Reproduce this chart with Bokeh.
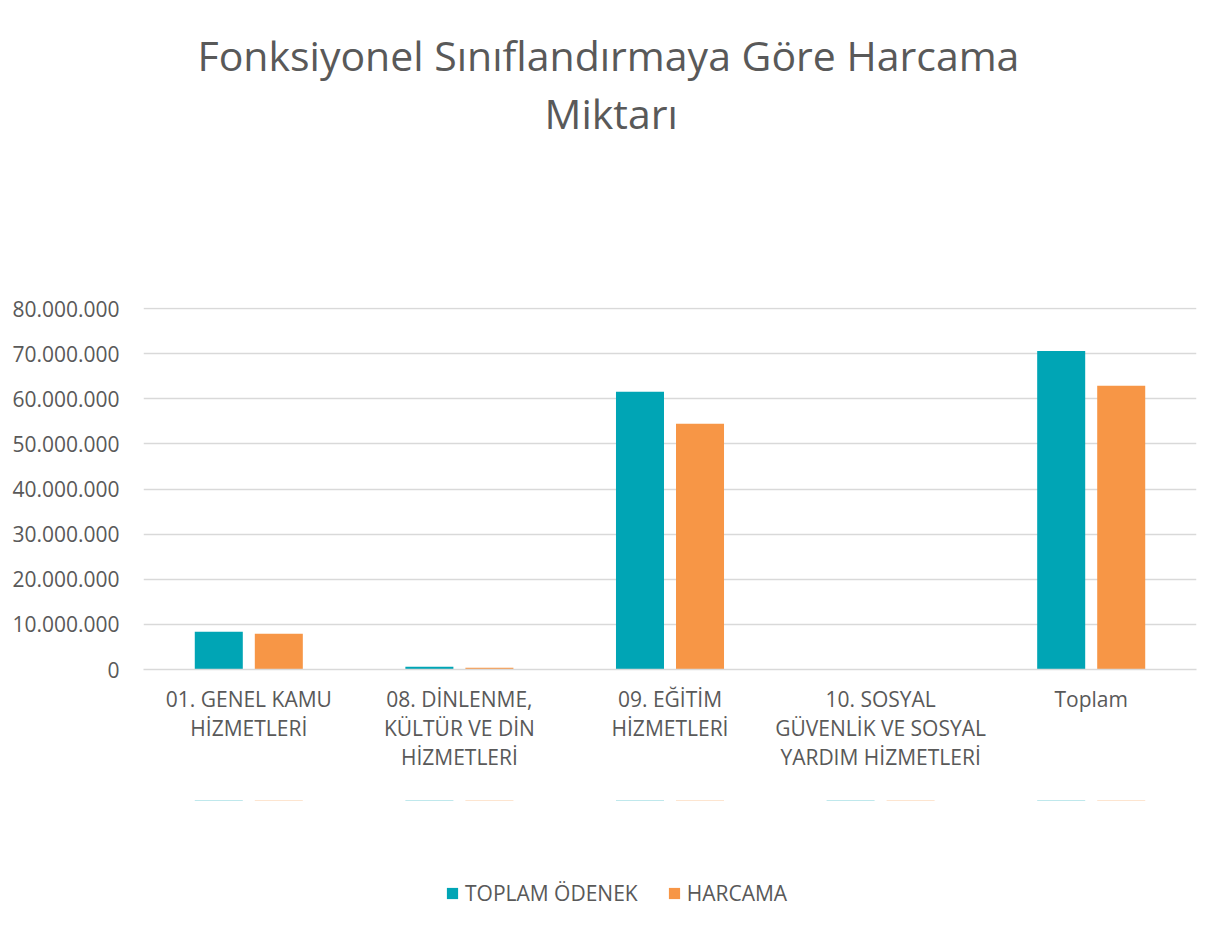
from bokeh.plotting import figure
from bokeh.layouts import column
from bokeh.models import (ColumnDataSource, FactorRange, Range1d, FixedTicker, Legend, LegendItem,
                          Title)
from bokeh.transform import dodge
from bokeh.embed import file_html
from bokeh.resources import INLINE

categories = ["01. GENEL KAMU\nHİZMETLERİ", "08. DİNLENME,\nKÜLTÜR VE DİN\nHİZMETLERİ",
              "09. EĞİTİM\nHİZMETLERİ", "10. SOSYAL\nGÜVENLİK VE SOSYAL\nYARDIM HİZMETLERİ", "Toplam"]
toplam_odenek = [8350000, 600000, 61600000, 0, 70600000]
harcama = [7900000, 380000, 54500000, 0, 62900000]
series_names = ["TOPLAM ÖDENEK", "HARCAMA"]
y_ticks = [0, 10000000, 20000000, 30000000, 40000000, 50000000, 60000000, 70000000, 80000000]
y_tick_labels = ["0", "10.000.000", "20.000.000", "30.000.000", "40.000.000",
                 "50.000.000", "60.000.000", "70.000.000", "80.000.000"]
title_lines = ["Fonksiyonel Sınıflandırmaya Göre Harcama", "Miktarı"]

TEAL = "#00A5B5"
ORANGE = "#F79646"
TXT = "#595959"
GRID = "#D9D9D9"
FONT = "Open Sans"

W = 1216
p = figure(x_range=FactorRange(*categories), y_range=Range1d(0, 80250000),
           width=W, height=800, output_backend="svg", toolbar_location=None,
           min_border_left=143, min_border_right=20, min_border_top=307, min_border_bottom=131)
p.outline_line_color = None
p.background_fill_color = "white"
p.border_fill_color = "white"

src = ColumnDataSource(dict(cat=categories, a=toplam_odenek, b=harcama))
r1 = p.vbar(x=dodge("cat", -0.1425, range=p.x_range), top="a", width=0.228, source=src,
            fill_color=TEAL, line_color=None)
r2 = p.vbar(x=dodge("cat", 0.1425, range=p.x_range), top="b", width=0.228, source=src,
            fill_color=ORANGE, line_color=None)

p.xgrid.grid_line_color = None
p.ygrid.grid_line_color = GRID
p.ygrid.grid_line_width = 1.5
p.yaxis.ticker = FixedTicker(ticks=y_ticks)
p.yaxis.major_label_overrides = {t: l for t, l in zip(y_ticks, y_tick_labels)}
p.yaxis.axis_line_color = None
p.yaxis.major_tick_line_color = None
p.yaxis.minor_tick_line_color = None
p.yaxis.major_tick_out = 0
p.yaxis.minor_tick_out = 0
p.yaxis.major_label_standoff = 24
p.yaxis.major_label_text_font = FONT
p.yaxis.major_label_text_font_size = "21px"
p.yaxis.major_label_text_color = TXT

p.xaxis.axis_line_color = GRID
p.xaxis.axis_line_width = 1.5
p.xaxis.major_tick_line_color = None
p.xaxis.minor_tick_line_color = None
p.xaxis.major_tick_out = 0
p.xaxis.minor_tick_out = 0
p.xaxis.major_label_standoff = 15
p.xaxis.major_label_text_font = FONT
p.xaxis.major_label_text_font_size = "21px"
p.xaxis.major_label_text_color = TXT
p.xaxis.major_label_text_line_height = 1.05

# two-line title, pushed up by an invisible spacer
p.add_layout(Title(text=" ", standoff=163, text_font_size="1px", text_font=FONT), "above")
t2 = Title(text=title_lines[1], align="left", offset=401, standoff=0, vertical_align="middle",
           text_font=FONT, text_font_size="41px", text_font_style="normal", text_color=TXT)
t1 = Title(text=title_lines[0], align="left", offset=54, standoff=0, vertical_align="middle",
           text_font=FONT, text_font_size="41px", text_font_style="normal", text_color=TXT)
p.add_layout(t2, "above")
p.add_layout(t1, "above")

# legend strip below the chart (its zero-height bars lie outside its visible y range)
p2 = figure(width=W, height=126, x_range=p.x_range, y_range=Range1d(-2, -1),
            output_backend="svg", toolbar_location=None, x_axis_location=None,
            y_axis_location=None, min_border=0)
p2.outline_line_color = None
p2.grid.visible = False
p2.background_fill_color = "white"
p2.border_fill_color = "white"
lg1 = p2.vbar(x=dodge("cat", -0.1425, range=p.x_range), top="a", bottom="a", width=0.228,
              source=src, fill_color=TEAL, line_color=None)
lg2 = p2.vbar(x=dodge("cat", 0.1425, range=p.x_range), top="b", bottom="b", width=0.228,
              source=src, fill_color=ORANGE, line_color=None)
legend = Legend(items=[LegendItem(label=series_names[0], renderers=[lg1]),
                       LegendItem(label=series_names[1], renderers=[lg2])],
                location=(302, 19), orientation="horizontal",
                label_text_font=FONT, label_text_font_size="21px", label_text_color=TXT,
                glyph_width=14, glyph_height=14, label_standoff=6, spacing=29,
                padding=0, margin=0, border_line_color=None, background_fill_alpha=0)
p2.add_layout(legend, "center")

open("out.html", "w").write(file_html(column(p, p2, spacing=0), INLINE))
